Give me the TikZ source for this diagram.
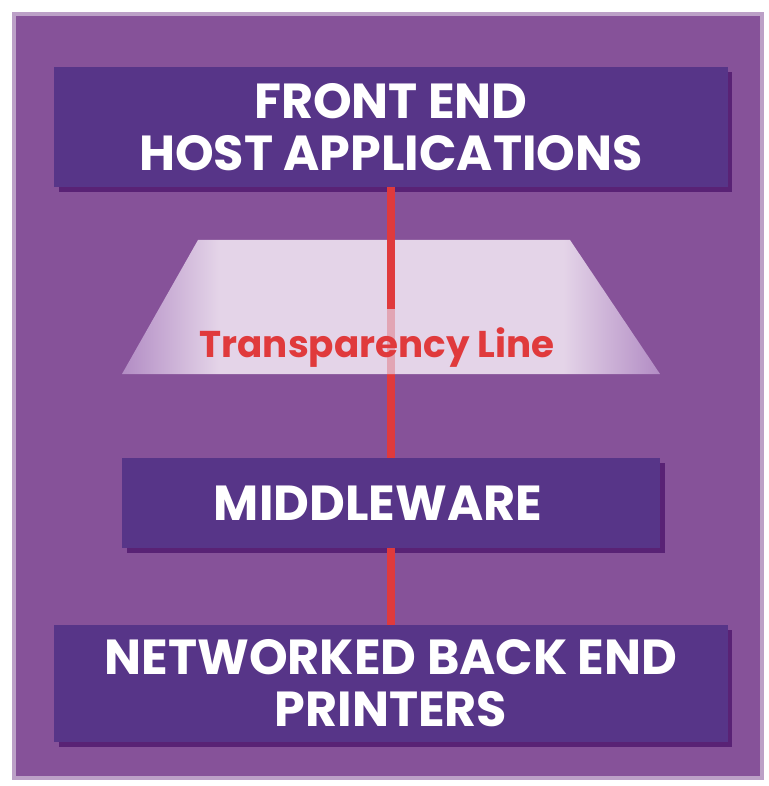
\documentclass[tikz,border=0pt]{standalone}
\usepackage{fontspec}
\setmainfont{Poppins}
\usetikzlibrary{shadows}

\definecolor{panelpurple}{RGB}{134,82,153}
\definecolor{boxpurple}{RGB}{87,53,136}
\definecolor{shadowpurple}{RGB}{78,22,108}
\definecolor{linered}{RGB}{224,58,60}
\definecolor{trapfill}{RGB}{228,212,232}
\definecolor{trapedge}{RGB}{178,140,196}

\pgfdeclarehorizontalshading{trapshade}{100bp}{color(0bp)=(trapedge); color(25bp)=(trapedge); color(34bp)=(trapfill); color(66bp)=(trapfill); color(75bp)=(trapedge); color(100bp)=(trapedge)}

\tikzset{
  layerbox/.style={fill=boxpurple, text=white, align=center, inner sep=0pt,
    font=\bfseries\fontsize{35}{37}\selectfont,
    drop shadow={shadow xshift=0.12cm, shadow yshift=-0.12cm, fill=shadowpurple, opacity=0.8}},
  redline/.style={linered, line width=0.2cm},
}

\begin{document}
\begin{tikzpicture}[x=0.025cm,y=-0.025cm]
	\useasboundingbox (0,0) rectangle (768,786);
	\fill[white] (0,0) rectangle (768,786);
	\fill[panelpurple] (14,14) rectangle (762,778);
	\draw[panelpurple!55!white, line width=0.12cm] (14,14) rectangle (762,778);

	% the three layers
	\node[layerbox, minimum width=16.825cm, minimum height=3cm] (front) at (391,127) {FRONT END\\HOST APPLICATIONS};
	\node[layerbox, minimum width=13.45cm, minimum height=2.25cm] (middle) at (391,503) {MIDDLEWARE\hspace*{0.65cm}};
	\node[layerbox, minimum width=16.825cm, minimum height=2.925cm] (back) at (391,683.5) {NETWORKED BACK END\\PRINTERS};

	\coordinate (fade) at (391,309);
	\coordinate (trapbase) at (391,374);

	\draw[redline] (front) -- (middle);
	\draw[redline] (middle) -- (back);

	% transparency layer
	\shade[shading=trapshade] (198,240) -- (570,240) -- (660,374) -- (122,374) -- cycle;
	\draw[redline, opacity=0.3] (fade) -- (trapbase);
	\draw[redline] (front) -- (fade);

	\node[text=linered, anchor=base, inner sep=0pt, font=\bfseries\fontsize{26.5}{30}\selectfont] (label) at (377,357) {Transparency Line};
\end{tikzpicture}
\end{document}
